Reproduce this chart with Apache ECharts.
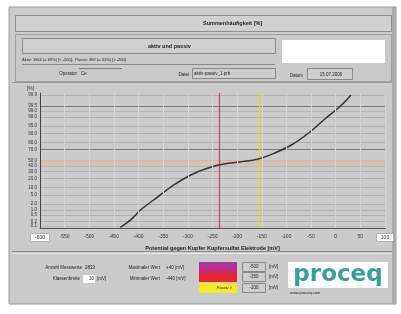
<!DOCTYPE html>
<html>
<head>
<meta charset="utf-8">
<script src="https://cdn.jsdelivr.net/npm/echarts@6/dist/echarts.min.js"></script>
<style>
html, body { margin: 0; padding: 0; background: #fff; }
#chart { width: 401px; height: 314px; }
</style>
</head>
<body>
<div id="chart"></div>
<script>
// potential [mV] against cumulative frequency [%]
var potentials = [-437, -416, -396, -361, -329, -294, -259, -227, -194, -157, -124, -90, -55, -22, 12, 31]
var cumFreq = [0.08, 0.25, 0.96, 4.3, 12.3, 24.7, 36.2, 43.4, 47.2, 52.8, 63.8, 76.8, 90.3, 97.5, 99.56, 99.9]

// probability paper grid
var probTicks = [0.1, 0.2, 0.5, 1, 2, 5, 10, 20, 30, 40, 50, 70, 80, 90, 95, 98, 99, 99.5, 99.9]
var probLabels = ['0.1', '0.2', '0.5', '1.0', '2.0', '5.0', '10.0', '20.0', '30.0', '40.0', '50.0', '70.0', '80.0', '90.0', '95.0', '98.0', '99.0', '99.5', '99.9']
var darkTicks = [70, 99.5]
var bandRange = [40, 50]

var xMin = -600
var xMax = 100
var xStep = 50
var refPotentials = [-237, -155]
var limitValues = ['-500', '-350', '-200']

// inverse normal cdf (probit) for the probability axis
function probit(p) {
  var a = [-39.69683028665376, 220.9460984245205, -275.9285104469687, 138.3577518672690, -30.66479806614716, 2.506628277459239]
  var b = [-54.47609879822406, 161.5858368580409, -155.6989798598866, 66.80131188771972, -13.28068155288572]
  var c = [-0.007784894002430293, -0.3223964580411365, -2.400758277161838, -2.549732539343734, 4.374664141464968, 2.938163982698783]
  var d = [0.007784695709041462, 0.3224671290700398, 2.445134137142996, 3.754408661907416]
  var pl = 0.02425, q, r
  if (p < pl) {
    q = Math.sqrt(-2 * Math.log(p))
    return (((((c[0] * q + c[1]) * q + c[2]) * q + c[3]) * q + c[4]) * q + c[5]) / ((((d[0] * q + d[1]) * q + d[2]) * q + d[3]) * q + 1)
  }
  if (p > 1 - pl) {
    q = Math.sqrt(-2 * Math.log(1 - p))
    return -(((((c[0] * q + c[1]) * q + c[2]) * q + c[3]) * q + c[4]) * q + c[5]) / ((((d[0] * q + d[1]) * q + d[2]) * q + d[3]) * q + 1)
  }
  q = p - 0.5
  r = q * q
  return (((((a[0] * r + a[1]) * r + a[2]) * r + a[3]) * r + a[4]) * r + a[5]) * q / (((((b[0] * r + b[1]) * r + b[2]) * r + b[3]) * r + b[4]) * r + 1)
}

var FONT = 'Liberation Sans'
var curve = potentials.map(function (v, i) { return [v, probit(cumFreq[i] / 100)] })

var gridLines = probTicks.map(function (p, i) {
  var col = '#b0b0b0'
  if (darkTicks.indexOf(p) >= 0) col = '#7a7a7a'
  if (p === 50) col = '#eab27a'
  if (p === 40) col = '#d7a9a6'
  return {
    yAxis: probit(p / 100),
    label: { formatter: probLabels[i] },
    lineStyle: { color: col, width: 1, type: 'solid' }
  }
})
var refLines = refPotentials.map(function (v, i) {
  return {
    xAxis: v,
    label: { show: false },
    lineStyle: { color: i === 0 ? '#c8406a' : '#e6d630', width: 1.2, type: 'solid' }
  }
})

function txt(x, y, s, opt) {
  opt = opt || {}
  return {
    type: 'text', x: x, y: y, z: 10, silent: true,
    style: {
      text: s, fill: opt.fill || '#222', fontSize: opt.size || 4.5,
      fontFamily: opt.family || FONT, fontWeight: opt.bold ? 'bold' : 'normal',
      align: opt.align || 'left', verticalAlign: 'middle'
    }
  }
}
function box(x, y, w, h, fill, stroke, z) {
  return {
    type: 'rect', z: z || 1, silent: true,
    shape: { x: x, y: y, width: w, height: h },
    style: { fill: fill, stroke: stroke || null, lineWidth: 1 }
  }
}
function hline(x1, x2, y, col) {
  return { type: 'line', z: 2, silent: true, shape: { x1: x1, y1: y, x2: x2, y2: y }, style: { stroke: col, lineWidth: 1 } }
}

var chart = echarts.init(document.getElementById('chart'))
chart.setOption({
  animation: false,
  backgroundColor: '#fff',
  graphic: [
    // window frame
    box(9, 7, 387, 297, '#cbcbcb', '#9c9c9c', 0),
    box(392, 7, 4, 297, '#a9a9a9', null, 1),
    // title bar
    box(15.5, 15.5, 376, 16, '#d0d0d0', '#8c8c8c'),
    txt(203, 23.5, 'Summenhäufigkeit [%]', { bold: true, size: 5.5 }),
    // header panel
    box(15.5, 34.5, 376, 47, '#c9c9c9', '#a0a0a0'),
    box(22.5, 38.5, 253, 15, '#cfcfcf', '#8a8a8a'),
    txt(148, 46, 'aktiv und passiv', { bold: true, size: 5.5 }),
    txt(22, 59.5, 'Aktiv: 1964 (= 69%) [< -200],  Passiv: 869 (= 31%) [> -200]', { size: 4 }),
    hline(22, 275, 64.5, '#8a8a8a'),
    box(282, 40, 103, 23, '#ffffff', null, 2),
    txt(77, 73.5, 'Operator', { align: 'right' }),
    hline(79, 122, 68.5, '#7a7a7a'),
    txt(81, 74, 'Ce'),
    txt(189, 74.5, 'Datei', { align: 'right' }),
    box(192.5, 68.5, 83, 10, '#cdcdcd', '#8a8a8a'),
    txt(194, 74, 'aktiv-passiv_1.prb'),
    txt(303, 75.5, 'Datum', { align: 'right' }),
    box(307.5, 68.5, 45, 11, '#cdcdcd', '#8a8a8a'),
    txt(331, 74.5, '15.07.2000', { align: 'center' }),
    hline(12, 392, 82.5, '#9a9a9a'),
    // bottom panel
    hline(12, 392, 251.5, '#8e8e8e'),
    hline(12, 392, 253.5, '#e4e4e4'),
    txt(82, 268, 'Anzahl Messwerte', { align: 'right' }),
    txt(85, 268, '2833'),
    txt(80, 279, 'Klassenbreite', { align: 'right' }),
    box(83, 275, 12, 8, '#ffffff', null, 2),
    txt(94, 279, '10', { align: 'right' }),
    txt(97, 279, '[mV]'),
    txt(160, 268, 'Maximaler Wert', { align: 'right' }),
    txt(166, 268, '+40 [mV]'),
    txt(160, 279, 'Minimaler Wert', { align: 'right' }),
    txt(166, 279, '-440 [mV]'),
    {
      type: 'rect', z: 2, silent: true,
      shape: { x: 199, y: 262, width: 38, height: 20 },
      style: {
        fill: new echarts.graphic.LinearGradient(0, 0, 0, 1, [
          { offset: 0, color: '#9c3aa6' },
          { offset: 0.45, color: '#c8287a' },
          { offset: 0.6, color: '#e0243e' },
          { offset: 1, color: '#e62a2a' }
        ])
      }
    },
    box(199, 283, 38, 10, '#f2e92e', null, 2),
    txt(232, 288, 'Passiv >', { align: 'right', size: 4 }),
    box(242.5, 262.5, 23, 9, '#cdcdcd', '#8a8a8a'),
    box(242.5, 272.5, 23, 9, '#cdcdcd', '#8a8a8a'),
    box(242.5, 283.5, 23, 9, '#cdcdcd', '#8a8a8a'),
    txt(254, 267, limitValues[0], { align: 'center' }),
    txt(254, 277, limitValues[1], { align: 'center' }),
    txt(254, 288, limitValues[2], { align: 'center' }),
    txt(269, 267, '[mV]'),
    txt(269, 277, '[mV]'),
    txt(269, 288, '[mV]'),
    box(288, 262, 100, 26, '#ffffff', null, 1),
    txt(338, 275, 'proceq', { fill: '#3a9e9c', size: 23, bold: true, family: 'DejaVu Sans', align: 'center' }),
    txt(290, 293, 'www.proceq.com', { size: 4 })
  ],
  grid: {
    left: 40,
    right: 16,
    top: 93,
    bottom: 86,
    show: true,
    backgroundColor: '#e8e8e8',
    borderColor: '#777',
    borderWidth: 1
  },
  xAxis: {
    type: 'value',
    z: 20,
    min: xMin,
    max: xMax,
    interval: xStep,
    name: 'Potential gegen Kupfer Kupfersulfat Elektrode [mV]',
    nameLocation: 'middle',
    nameGap: 17,
    nameTextStyle: { fontSize: 5.5, fontWeight: 'bold', color: '#222', fontFamily: FONT },
    axisLine: { show: true, onZero: false, lineStyle: { color: '#555' } },
    axisTick: { show: false },
    splitLine: { show: true, lineStyle: { color: '#d4d4d4', width: 1 } },
    axisLabel: {
      show: true,
      margin: 6,
      fontSize: 5,
      color: '#333',
      fontFamily: FONT,
      formatter: function (v) {
        if (v === xMin || v === xMax) return '{b|' + v + '}'
        return String(v)
      },
      rich: {
        b: {
          fontSize: 5, color: '#333', fontFamily: FONT,
          backgroundColor: '#fff', borderColor: '#999', borderWidth: 0.5, padding: [1, 4]
        }
      }
    }
  },
  yAxis: {
    type: 'value',
    z: 20,
    min: -3.19,
    max: 3.19,
    name: '[%]',
    nameLocation: 'end',
    nameGap: 2,
    nameTextStyle: { fontSize: 5, color: '#333', fontFamily: FONT, align: 'right', padding: [0, 6, 0, 0] },
    axisLine: { show: true, onZero: false, lineStyle: { color: '#444', width: 1 } },
    axisTick: { show: false },
    axisLabel: { show: false },
    splitLine: { show: false }
  },
  series: [
    {
      type: 'line',
      data: curve,
      smooth: 0.35,
      symbol: 'none',
      clip: true,
      z: 5,
      lineStyle: { color: '#333', width: 1.5 },
      markArea: {
        silent: true,
        itemStyle: { color: 'rgba(215,170,160,0.22)' },
        data: [[{ yAxis: probit(bandRange[1] / 100) }, { yAxis: probit(bandRange[0] / 100) }]]
      },
      markLine: {
        silent: true,
        symbol: ['none', 'none'],
        animation: false,
        label: { show: true, position: 'start', distance: 3, fontSize: 4.5, color: '#333', fontFamily: FONT },
        data: gridLines.concat(refLines)
      }
    }
  ]
})
</script>
</body>
</html>
